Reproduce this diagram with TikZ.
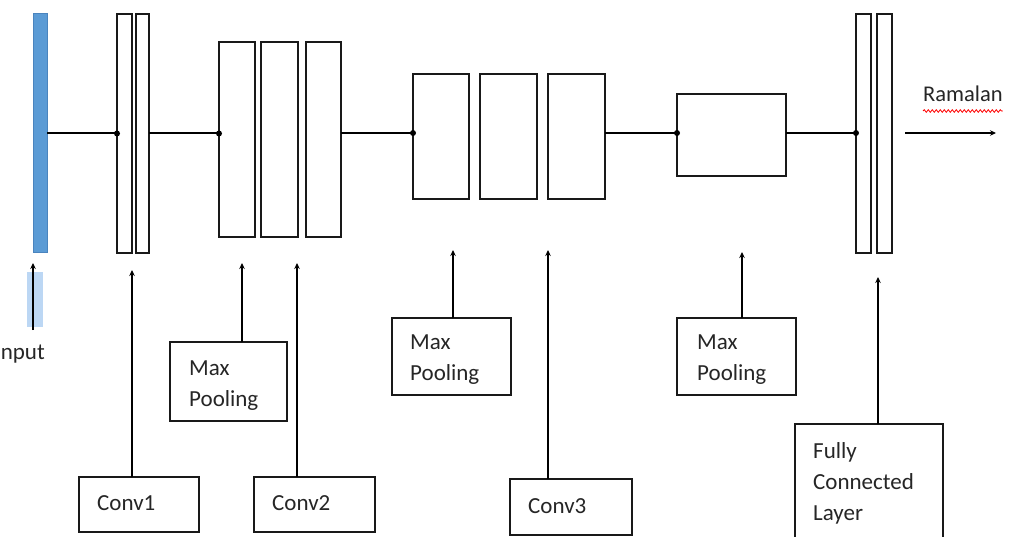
\documentclass[tikz,border=0pt]{standalone}
\usepackage{fontspec}
\setmainfont{Carlito}
\usetikzlibrary{arrows.meta,decorations.pathmorphing}
\definecolor{inblue}{HTML}{5B9BD5}
\definecolor{inedge}{HTML}{4A84BE}
\definecolor{hlblue}{HTML}{BCD7F4}
\definecolor{txtcol}{HTML}{262626}
\begin{document}
\begin{tikzpicture}[x=1pt,y=-1pt,
  box/.style={draw=black!90, line width=2.2pt, inner sep=0pt, outer sep=0pt, anchor=north west},
  inbar/.style={box, draw=inedge, fill=inblue, line width=1pt},
  lbl/.style={font=\fontsize{23}{27}\selectfont, text=txtcol, inner sep=0pt, anchor=base west},
  conn/.style={line width=2pt},
  arr/.style={line width=1.9pt, -{Stealth[length=6pt,width=5.5pt]}},
  jdot/.style={fill=black}
]
\fill[white] (0,0) rectangle (1011,537);
\useasboundingbox (0,0) rectangle (1011,537);
\coordinate (axis) at (0,133);

% layer blocks
\node[inbar, minimum width=14pt, minimum height=239pt] (inp) at (33,14) {};
\node[box, minimum width=15pt, minimum height=239pt] (c1a) at (117,14) {};
\node[box, minimum width=13pt, minimum height=239pt] (c1b) at (136,14) {};
\node[box, minimum width=36pt, minimum height=195pt] (c2a) at (219,42) {};
\node[box, minimum width=37pt, minimum height=195pt] (c2b) at (261,42) {};
\node[box, minimum width=35pt, minimum height=195pt] (c2c) at (306,42) {};
\node[box, minimum width=56pt, minimum height=125pt] (c3a) at (413,74) {};
\node[box, minimum width=57pt, minimum height=125pt] (c3b) at (480,74) {};
\node[box, minimum width=57pt, minimum height=125pt] (c3c) at (548,74) {};
\node[box, minimum width=109pt, minimum height=82pt] (pl) at (677,94) {};
\node[box, minimum width=15pt, minimum height=239pt] (fc1) at (856,14) {};
\node[box, minimum width=15pt, minimum height=239pt] (fc2) at (877,14) {};

% main connectors
\draw[conn] (inp.east) -- (c1a.west);
\fill[jdot] (c1a.west) circle (3pt);
\draw[conn] (c1b.east) -- (c2a.west |- c1b.east);
\fill[jdot] (c2a.west |- c1b.east) circle (3pt);
\draw[conn] (c2c.east |- axis) -- (c3a.west |- axis);
\fill[jdot] (c3a.west |- axis) circle (3pt);
\draw[conn] (c3c.east |- axis) -- (pl.west |- axis);
\fill[jdot] (pl.west |- axis) circle (3pt);
\draw[conn] (pl.east |- axis) -- (fc1.west |- axis);
\fill[jdot] (fc1.west |- axis) circle (3pt);

% output
\coordinate (outS) at (905,133);
\coordinate (outE) at (996,133);
\draw[arr] (outS) -- (outE);
\node[lbl, font=\fontsize{22.5}{27}\selectfont] (ram) at (923,102) {Ramalan};
\draw[red, line width=0.8pt, decorate, decoration={snake, amplitude=1.3pt, segment length=4pt}] (ram.base west |- 0,111) -- (ram.base east |- 0,111);

% input arrow
\fill[hlblue] (27,272) rectangle (43,327);
\coordinate (inB) at (33,330);
\coordinate (inT) at (33,263);
\draw[arr] (inB) -- (inT);
\node[lbl, anchor=base east] (inlbl) at (45,359) {Input};

% lower boxes
\node[box, minimum width=120pt, minimum height=55pt] (conv1) at (79,477) {};
\node[box, minimum width=121pt, minimum height=55pt] (conv2) at (254,477) {};
\node[box, minimum width=122pt, minimum height=56pt] (conv3) at (510,479) {};
\node[box, minimum width=117pt, minimum height=79pt] (mp1) at (170,342) {};
\node[box, minimum width=119pt, minimum height=77pt] (mp2) at (392,318) {};
\node[box, minimum width=119pt, minimum height=77pt] (mp3) at (677,318) {};
\node[box, minimum width=148pt, minimum height=120pt] (fcl) at (795,424) {};

% box texts
\node[lbl] (t1) at (97,510) {Conv1};
\node[lbl] (t2) at (272,510) {Conv2};
\node[lbl] (t3) at (528,513) {Conv3};
\node[lbl] (m1a) at (189,375) {Max};
\node[lbl] (m1b) at (189,406) {Pooling};
\node[lbl] (m2a) at (410,349) {Max};
\node[lbl] (m2b) at (410,380) {Pooling};
\node[lbl] (m3a) at (697,349) {Max};
\node[lbl] (m3b) at (697,380) {Pooling};
\node[lbl] (f1) at (813,458) {Fully};
\node[lbl] (f2) at (813,489) {Connected};
\node[lbl] (f3) at (813,520) {Layer};

% vertical arrows
\coordinate (a1) at (132,270);
\coordinate (a2) at (242,263);
\coordinate (a3) at (297,263);
\coordinate (a4) at (453,250);
\coordinate (a5) at (548,250);
\coordinate (a6) at (742,252);
\coordinate (a7) at (878,277);
\draw[arr] (conv1.north -| a1) -- (a1);
\draw[arr] (mp1.north -| a2) -- (a2);
\draw[arr] (conv2.north -| a3) -- (a3);
\draw[arr] (mp2.north -| a4) -- (a4);
\draw[arr] (conv3.north -| a5) -- (a5);
\draw[arr] (mp3.north -| a6) -- (a6);
\draw[arr] (fcl.north -| a7) -- (a7);
\end{tikzpicture}
\end{document}
